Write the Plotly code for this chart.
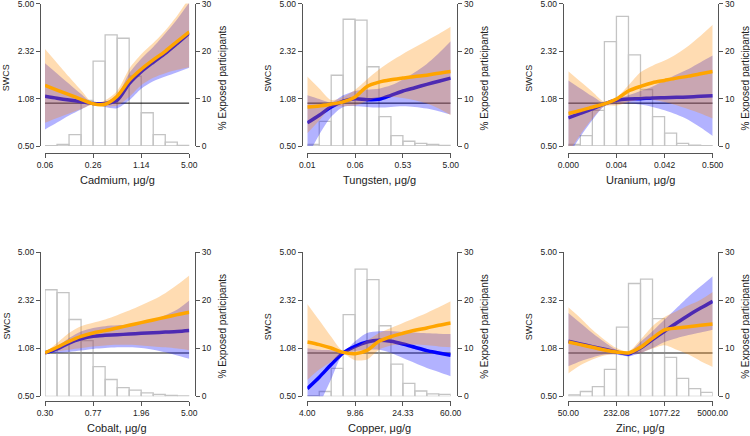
import math
import plotly.graph_objects as go

W, H = 750, 436

# ---------------- shared axis ticks ----------------
swcs_ticks = [0.5, 1.0772, 2.3208, 5.0]
swcs_ticklabels = ["0.50", "1.08", "2.32", "5.00"]
swcs_range = [0.5, 5.0]
pct_ticks = [0, 10, 20, 30]
pct_range = [0, 30]

# ---------------- Cadmium ----------------
cd_x = [0.06, 0.0867, 0.1254, 0.1813, 0.2621, 0.3789, 0.5478, 0.792, 1.145, 1.655, 2.393, 3.46, 5.0]
cd_pct = [0.1, 0.35, 2.4, 9.6, 17.9, 23.4, 22.7, 14.7, 7.0, 2.4, 0.8, 0.15]
cd_orange = [1.333, 1.236, 1.147, 1.064, 0.99, 0.983, 1.117, 1.444, 1.73, 2.011, 2.313, 2.716, 3.17]
cd_orange_lo = [0.727, 0.786, 0.846, 0.911, 0.98, 0.951, 0.961, 1.105, 1.333, 1.507, 1.624, 1.713, 1.788]
cd_orange_hi = [2.40, 1.917, 1.531, 1.230, 1.0, 1.047, 1.217, 1.74, 2.2, 2.64, 3.24, 4.13, 5.5]
cd_blue = [1.117, 1.082, 1.052, 1.024, 0.993, 0.993, 1.047, 1.369, 1.66, 1.937, 2.239, 2.630, 3.10]
cd_blue_lo = [0.654, 0.731, 0.819, 0.901, 0.985, 0.941, 0.921, 1.047, 1.264, 1.426, 1.539, 1.650, 1.77]
cd_blue_hi = [1.907, 1.616, 1.368, 1.160, 1.0, 1.020, 1.135, 1.62, 2.05, 2.48, 3.08, 3.9, 5.1]
cd_ticks = [0.06, 0.262, 1.145, 5.0]
cd_ticklabels = ["0.06", "0.26", "1.14", "5.00"]

# ---------------- Tungsten ----------------
w_x = [0.006, 0.01051, 0.0184, 0.03223, 0.05645, 0.09887, 0.1732, 0.3033, 0.5312, 0.9303, 1.629, 2.854, 5.0]
w_pct = [0.35, 5.2, 14.9, 26.7, 26.5, 16.7, 6.2, 2.2, 1.0, 0.55, 0.35, 0.15]
w_orange = [0.941, 0.956, 0.985, 1.020, 1.105, 1.311, 1.405, 1.459, 1.499, 1.539, 1.572, 1.624, 1.669]
w_orange_lo = [0.614, 0.755, 0.931, 0.951, 0.961, 1.036, 1.093, 1.105, 1.088, 1.047, 0.993, 0.916, 0.823]
w_orange_hi = [1.539, 1.269, 1.053, 1.105, 1.243, 1.467, 1.722, 1.968, 2.216, 2.467, 2.746, 3.057, 3.437]
w_blue = [0.727, 0.823, 0.941, 1.031, 1.075, 1.058, 1.064, 1.135, 1.217, 1.283, 1.354, 1.426, 1.499]
w_blue_lo = [0.421, 0.60, 0.802, 0.941, 0.951, 0.941, 0.931, 0.941, 0.951, 0.941, 0.916, 0.878, 0.831]
w_blue_hi = [1.135, 1.069, 1.014, 1.135, 1.217, 1.243, 1.264, 1.333, 1.467, 1.650, 1.886, 2.239, 2.716]
w_ticks = [0.006, 0.0565, 0.531, 5.0]
w_ticklabels = ["0.01", "0.06", "0.53", "5.00"]

# ---------------- Uranium ----------------
u_x = [0.0003, 0.000557, 0.001033, 0.001917, 0.003557, 0.0066, 0.01225, 0.02273, 0.04217, 0.07825, 0.1452, 0.2694, 0.5]
u_pct = [0.35, 2.2, 7.5, 22.0, 27.3, 19.2, 11.9, 6.2, 2.7, 0.55, 0.2, 0.1]
u_orange = [0.846, 0.887, 0.936, 0.988, 1.069, 1.217, 1.311, 1.391, 1.444, 1.499, 1.547, 1.607, 1.669]
u_orange_lo = [0.45, 0.60, 0.779, 0.951, 0.961, 1.020, 1.058, 1.058, 1.020, 0.966, 0.906, 0.846, 0.779]
u_orange_hi = [1.677, 1.420, 1.204, 1.025, 1.093, 1.333, 1.650, 1.834, 1.990, 2.216, 2.533, 2.975, 3.55]
u_blue = [0.787, 0.846, 0.911, 0.988, 1.047, 1.069, 1.075, 1.088, 1.093, 1.099, 1.105, 1.117, 1.128]
u_blue_lo = [0.43, 0.58, 0.761, 0.951, 0.983, 0.993, 0.977, 0.941, 0.892, 0.832, 0.761, 0.673, 0.587]
u_blue_hi = [1.444, 1.269, 1.117, 1.003, 1.069, 1.135, 1.217, 1.311, 1.444, 1.589, 1.740, 1.937, 2.156]
u_ticks = [0.0003, 0.00356, 0.0422, 0.5]
u_ticklabels = ["0.000", "0.004", "0.042", "0.500"]

# ---------------- Cobalt ----------------
co_x = [0.3, 0.3793, 0.4795, 0.6061, 0.7663, 0.9687, 1.2247, 1.5482, 1.9573, 2.4744, 3.1281, 3.9546, 5.0]
co_pct = [22.2, 21.6, 16.0, 11.6, 6.2, 3.5, 1.8, 1.3, 0.7, 0.4, 0.2, 0.1]
co_orange = [1.0, 1.095, 1.205, 1.305, 1.377, 1.429, 1.491, 1.556, 1.624, 1.695, 1.769, 1.845, 1.916]
co_orange_lo = [1.0, 1.027, 1.053, 1.081, 1.11, 1.127, 1.139, 1.139, 1.127, 1.11, 1.095, 1.072, 1.045]
co_orange_hi = [1.0, 1.171, 1.377, 1.535, 1.62, 1.71, 1.83, 1.97, 2.14, 2.34, 2.60, 2.97, 3.45]
co_blue = [1.0, 1.066, 1.171, 1.253, 1.305, 1.325, 1.339, 1.353, 1.368, 1.382, 1.396, 1.410, 1.433]
co_blue_lo = [1.0, 1.0, 1.016, 1.038, 1.066, 1.081, 1.095, 1.095, 1.081, 1.053, 1.011, 0.96, 0.91]
co_blue_hi = [1.0, 1.11, 1.27, 1.41, 1.49, 1.535, 1.556, 1.573, 1.62, 1.70, 1.83, 2.0, 2.31]
co_ticks = [0.3, 0.766, 1.958, 5.0]
co_ticklabels = ["0.30", "0.77", "1.96", "5.00"]

# ---------------- Copper ----------------
cu_x = [4.0, 5.013, 6.282, 7.872, 9.865, 12.36, 15.49, 19.41, 24.33, 30.49, 38.21, 47.88, 60.0]
cu_pct = [0.15, 1.0, 5.8, 17.0, 26.5, 24.3, 14.7, 6.7, 2.7, 1.1, 0.5, 0.4]
cu_orange = [1.192, 1.143, 1.083, 1.01, 0.989, 1.043, 1.205, 1.298, 1.369, 1.436, 1.491, 1.556, 1.615]
cu_orange_lo = [0.65, 0.767, 0.87, 0.985, 0.89, 0.90, 1.053, 1.125, 1.143, 1.143, 1.13, 1.11, 1.095]
cu_orange_hi = [2.19, 1.686, 1.298, 1.035, 1.10, 1.22, 1.377, 1.491, 1.615, 1.75, 1.896, 2.075, 2.284]
cu_blue = [0.565, 0.678, 0.830, 1.0, 1.112, 1.192, 1.224, 1.205, 1.155, 1.095, 1.038, 1.0, 0.963]
cu_blue_lo = [0.296, 0.437, 0.659, 0.98, 1.027, 1.053, 1.053, 1.0, 0.923, 0.852, 0.787, 0.738, 0.689]
cu_blue_hi = [1.08, 1.053, 1.045, 1.02, 1.205, 1.377, 1.416, 1.416, 1.40, 1.385, 1.369, 1.362, 1.354]
cu_ticks = [4.0, 9.865, 24.33, 60.0]
cu_ticklabels = ["4.00", "9.86", "24.33", "60.00"]

# ---------------- Zinc ----------------
zn_x = [50, 73.39, 107.72, 158.11, 232.08, 340.65, 500.0, 733.9, 1077.2, 1581.1, 2320.8, 3406.5, 5000]
zn_pct = [0.3, 1.0, 2.0, 5.6, 14.4, 23.5, 24.4, 16.2, 8.1, 3.75, 1.6, 0.8]
zn_orange = [1.192, 1.143, 1.095, 1.049, 1.016, 1.0, 1.095, 1.267, 1.444, 1.491, 1.52, 1.556, 1.59]
zn_orange_lo = [0.72, 0.82, 0.9, 0.96, 0.984, 0.974, 1.0, 1.072, 1.132, 1.053, 0.974, 0.877, 0.80]
zn_orange_hi = [2.075, 1.75, 1.449, 1.236, 1.083, 1.027, 1.236, 1.535, 1.775, 1.95, 2.14, 2.34, 2.65]
zn_blue = [1.205, 1.155, 1.106, 1.06, 1.016, 0.984, 1.083, 1.24, 1.416, 1.615, 1.83, 2.05, 2.284]
zn_blue_lo = [0.807, 0.877, 0.93, 0.974, 0.974, 0.946, 1.0, 1.083, 1.192, 1.267, 1.33, 1.385, 1.449]
zn_blue_hi = [1.896, 1.615, 1.377, 1.192, 1.053, 1.011, 1.192, 1.416, 1.705, 2.05, 2.467, 2.90, 3.41]
zn_ticks = [50, 232.08, 1077.22, 5000]
zn_ticklabels = ["50.00", "232.08", "1077.22", "5000.00"]

panels = [
    dict(title="Cadmium, μg/g", x=cd_x, pct=cd_pct, o=cd_orange, olo=cd_orange_lo, ohi=cd_orange_hi,
         b=cd_blue, blo=cd_blue_lo, bhi=cd_blue_hi, tv=cd_ticks, tt=cd_ticklabels),
    dict(title="Tungsten, μg/g", x=w_x, pct=w_pct, o=w_orange, olo=w_orange_lo, ohi=w_orange_hi,
         b=w_blue, blo=w_blue_lo, bhi=w_blue_hi, tv=w_ticks, tt=w_ticklabels),
    dict(title="Uranium, μg/g", x=u_x, pct=u_pct, o=u_orange, olo=u_orange_lo, ohi=u_orange_hi,
         b=u_blue, blo=u_blue_lo, bhi=u_blue_hi, tv=u_ticks, tt=u_ticklabels),
    dict(title="Cobalt, μg/g", x=co_x, pct=co_pct, o=co_orange, olo=co_orange_lo, ohi=co_orange_hi,
         b=co_blue, blo=co_blue_lo, bhi=co_blue_hi, tv=co_ticks, tt=co_ticklabels),
    dict(title="Copper, μg/g", x=cu_x, pct=cu_pct, o=cu_orange, olo=cu_orange_lo, ohi=cu_orange_hi,
         b=cu_blue, blo=cu_blue_lo, bhi=cu_blue_hi, tv=cu_ticks, tt=cu_ticklabels),
    dict(title="Zinc, μg/g", x=zn_x, pct=zn_pct, o=zn_orange, olo=zn_orange_lo, ohi=zn_orange_hi,
         b=zn_blue, blo=zn_blue_lo, bhi=zn_blue_hi, tv=zn_ticks, tt=zn_ticklabels),
]

# ---------------- layout geometry (pixels) ----------------
col_dom = [(45.0, 189.3), (307.3, 450.7), (568.3, 712.7)]
col_left = [40.0, 301.7, 562.7]
col_right = [195.0, 457.3, 718.3]
row_dom = [(3.6, 146.0), (252.3, 396.3)]
row_xaxis = [152.7, 400.7]

FONT = "Liberation Sans, Arial, Helvetica, sans-serif"
TXT = "#222222"
AX = "#555555"
BLUE = "#0000ff"
ORANGE = "#ffa500"
BLUE_BAND = "rgba(0,0,255,0.30)"
ORANGE_BAND = "rgba(255,140,0,0.30)"


def px_x(v):
    return v / W


def px_y(v):
    return 1 - v / H


def bar_path(edges, heights):
    xs, ys = [], []
    for i, h in enumerate(heights):
        a, b = edges[i], edges[i + 1]
        xs += [a, a, b, b, a, None]
        ys += [0, h, h, 0, 0, None]
    return xs, ys


fig = go.Figure()
layout = {}
annotations = []
tickfont = dict(family=FONT, size=8.5, color=TXT)
xtitlefont = dict(family=FONT, size=11, color=TXT)
ytitlefont = dict(family=FONT, size=9, color=TXT)
rtitlefont = dict(family=FONT, size=10, color=TXT)
axis_common = dict(showline=True, linecolor=AX, linewidth=1, ticks="outside", ticklen=4,
                   tickcolor=AX, tickwidth=1, tickfont=tickfont, showgrid=False,
                   zeroline=False, fixedrange=True, automargin=False,
                   ticklabeloverflow="allow")

for i, p in enumerate(panels):
    r, c = divmod(i, 3)
    n = i + 1
    xa = "x" if n == 1 else f"x{n}"
    ya_pct = "y" if n == 1 else f"y{2 * n - 1}"
    ya_sw = f"y{2 * n}"
    xkey = "xaxis" if n == 1 else f"xaxis{n}"
    ykey_pct = "yaxis" if n == 1 else f"yaxis{2 * n - 1}"
    ykey_sw = f"yaxis{2 * n}"

    x0, x1 = col_dom[c]
    yt, yb = row_dom[r]
    ydom = [px_y(yb), px_y(yt)]

    layout[xkey] = dict(
        domain=[px_x(x0), px_x(x1)], type="log",
        range=[math.log10(p["x"][0]), math.log10(p["x"][-1])],
        anchor="free", position=px_y(row_xaxis[r]),
        tickvals=p["tv"], ticktext=p["tt"], **axis_common,
    )
    layout[ykey_pct] = dict(
        domain=ydom, range=pct_range, anchor="free", position=px_x(col_right[c]),
        side="right", tickvals=pct_ticks, **axis_common,
    )
    layout[ykey_sw] = dict(
        overlaying=ya_pct, type="log",
        range=[math.log10(swcs_range[0]), math.log10(swcs_range[1])],
        anchor="free", position=px_x(col_left[c]), side="left",
        tickvals=swcs_ticks, ticktext=swcs_ticklabels, **axis_common,
    )

    # histogram of exposure (right axis)
    hx, hy = bar_path(p["x"], p["pct"])
    fig.add_trace(go.Scatter(x=hx, y=hy, mode="lines", xaxis=xa, yaxis=ya_pct,
                             line=dict(color="#c4c4c4", width=1.3), hoverinfo="skip"))

    # reference line at SWCS = 1
    ref_col = "#000000" if r == 0 else "#8c8c8c"
    ref_w = 1 if r == 0 else 2
    fig.add_trace(go.Scatter(x=[p["x"][0], p["x"][-1]], y=[1, 1], mode="lines",
                             xaxis=xa, yaxis=ya_sw, line=dict(color=ref_col, width=ref_w),
                             hoverinfo="skip"))

    sp = dict(shape="spline", smoothing=0.8)
    # blue band + line
    fig.add_trace(go.Scatter(x=p["x"], y=p["blo"], mode="lines", xaxis=xa, yaxis=ya_sw,
                             line=dict(width=0, **sp), hoverinfo="skip"))
    fig.add_trace(go.Scatter(x=p["x"], y=p["bhi"], mode="lines", xaxis=xa, yaxis=ya_sw,
                             line=dict(width=0, **sp), fill="tonexty", fillcolor=BLUE_BAND,
                             hoverinfo="skip"))
    fig.add_trace(go.Scatter(x=p["x"], y=p["b"], mode="lines", xaxis=xa, yaxis=ya_sw,
                             line=dict(color=BLUE, width=3.5, **sp)))
    # orange band + line
    fig.add_trace(go.Scatter(x=p["x"], y=p["olo"], mode="lines", xaxis=xa, yaxis=ya_sw,
                             line=dict(width=0, **sp), hoverinfo="skip"))
    fig.add_trace(go.Scatter(x=p["x"], y=p["ohi"], mode="lines", xaxis=xa, yaxis=ya_sw,
                             line=dict(width=0, **sp), fill="tonexty", fillcolor=ORANGE_BAND,
                             hoverinfo="skip"))
    fig.add_trace(go.Scatter(x=p["x"], y=p["o"], mode="lines", xaxis=xa, yaxis=ya_sw,
                             line=dict(color=ORANGE, width=3.5, **sp)))

    # axis titles
    annotations.append(dict(text=p["title"], xref="paper", yref="paper",
                            x=px_x((x0 + x1) / 2), y=px_y(row_xaxis[r] + 27),
                            xanchor="center", yanchor="middle", showarrow=False, font=xtitlefont))
    annotations.append(dict(text="SWCS", xref="paper", yref="paper",
                            x=px_x(col_left[c] - 34), y=px_y((yt + row_xaxis[r]) / 2),
                            xanchor="center", yanchor="middle", textangle=-90,
                            showarrow=False, font=ytitlefont))
    annotations.append(dict(text="% Exposed participants", xref="paper", yref="paper",
                            x=px_x(col_right[c] + 27), y=px_y((yt + row_xaxis[r]) / 2),
                            xanchor="center", yanchor="middle", textangle=-90,
                            showarrow=False, font=rtitlefont))

fig.update_layout(
    width=W, height=H, margin=dict(l=0, r=0, t=0, b=0, pad=0, autoexpand=False),
    paper_bgcolor="white", plot_bgcolor="white", showlegend=False,
    font=dict(family=FONT, color=TXT), annotations=annotations, **layout,
)

fig.write_html(
    "out.html",
    config={"displayModeBar": False},
    post_script="document.body.style.margin='0';document.body.style.overflow='hidden';",
)
